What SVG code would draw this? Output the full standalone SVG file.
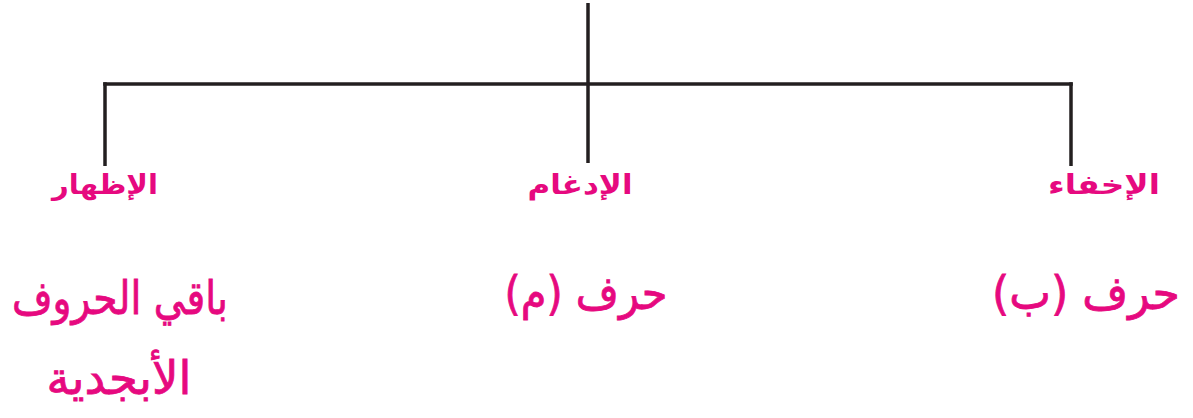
<svg xmlns="http://www.w3.org/2000/svg" width="1193" height="418" viewBox="0 0 1193 418">
<style>
.ln{stroke:#231f20;stroke-width:3.5;fill:none;stroke-linecap:butt}
.hd{font-family:"DejaVu Sans","Noto Sans",sans-serif;font-weight:bold;font-size:27px;fill:#e6097f;text-anchor:middle;direction:rtl;unicode-bidi:embed}
.bd{font-family:"DejaVu Sans","Noto Sans",sans-serif;font-size:46px;fill:#e6097f;text-anchor:middle;direction:rtl;unicode-bidi:embed;stroke:#e6097f;stroke-width:0.8}
</style>
<rect width="1193" height="418" fill="#ffffff"/>
<g id="connectors">
<line class="ln" x1="588" y1="3" x2="588" y2="163"/>
<line class="ln" x1="103.25" y1="84" x2="1072.75" y2="84"/>
<line class="ln" x1="105" y1="82.25" x2="105" y2="166"/>
<line class="ln" x1="1071" y1="82.25" x2="1071" y2="166"/>
</g>
<g id="node-izhar">
<text class="hd" x="105" y="194" textLength="106" lengthAdjust="spacingAndGlyphs">الإظهار</text>
<text class="bd" x="120" y="314" textLength="216" lengthAdjust="spacingAndGlyphs">باقي الحروف</text>
<text class="bd" x="119" y="394" textLength="145" lengthAdjust="spacingAndGlyphs">الأبجدية</text>
</g>
<g id="node-idgham">
<text class="hd" x="580" y="194" textLength="105" lengthAdjust="spacingAndGlyphs">الإدغام</text>
<text class="bd" x="586" y="309" textLength="163" lengthAdjust="spacingAndGlyphs">حرف (م)</text>
</g>
<g id="node-ikhfa">
<text class="hd" x="1104" y="194" textLength="112" lengthAdjust="spacingAndGlyphs">الإخفاء</text>
<text class="bd" x="1086" y="309" textLength="188" lengthAdjust="spacingAndGlyphs">حرف (ب)</text>
</g>
</svg>
